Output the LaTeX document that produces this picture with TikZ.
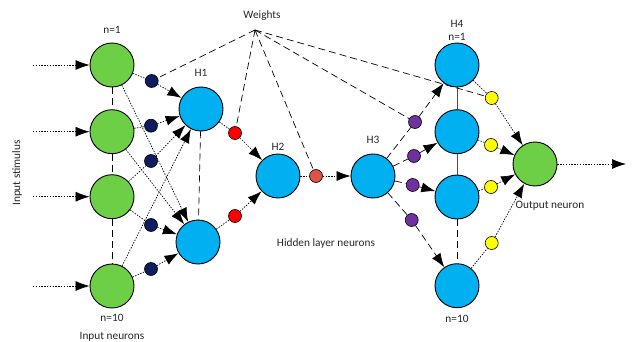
\documentclass[tikz,border=0pt]{standalone}
\usepackage{fontspec}
\setmainfont{Carlito}
\usetikzlibrary{arrows.meta}
\definecolor{cgreen}{HTML}{6DCF46}
\definecolor{cblue}{HTML}{00B0F0}
\definecolor{cnavy}{HTML}{0E1D5F}
\definecolor{cred}{HTML}{FF0000}
\definecolor{csalmon}{HTML}{DD5347}
\definecolor{cpurple}{HTML}{7030A0}
\definecolor{cyellow}{HTML}{FFFF00}
\begin{document}
\begin{tikzpicture}[x=1pt,y=-1pt,
  neuron/.style={circle,draw=black,line width=0.9pt,minimum size=44pt,inner sep=0pt},
  wdot/.style={circle,draw=black,line width=0.6pt,minimum size=13pt,inner sep=0pt},
  lbl/.style={font=\fontsize{11.3}{13}\selectfont,inner sep=0pt,text=black!85},
  dotline/.style={line width=0.7pt,dash pattern=on 1.4pt off 1.4pt},
  dashline/.style={line width=0.7pt,dash pattern=on 7pt off 4pt},
  arr/.style={-{Latex[length=14pt,width=10pt]}},
]
\useasboundingbox (0,0) rectangle (636,342);
% input neurons
\node[neuron,fill=cgreen] (n1) at (112,65) {};
\node[neuron,fill=cgreen] (n2) at (112,131.7) {};
\node[neuron,fill=cgreen] (n3) at (112,196.7) {};
\node[neuron,fill=cgreen] (n4) at (112,286) {};
% hidden
\node[neuron,fill=cblue] (h1) at (201,109) {};
\node[neuron,fill=cblue] (h1b) at (198,242) {};
\node[neuron,fill=cblue] (h2) at (278,176) {};
\node[neuron,fill=cblue] (h3) at (373,176) {};
\node[neuron,fill=cblue] (k1) at (457,65) {};
\node[neuron,fill=cblue] (k2) at (457,131.7) {};
\node[neuron,fill=cblue] (k3) at (457,197) {};
\node[neuron,fill=cblue] (k4) at (457,285.7) {};
\node[neuron,fill=cgreen] (out) at (535,164) {};
% weight dots
\node[wdot,fill=cnavy] (d1) at (151.7,81) {};
\node[wdot,fill=cnavy] (d2) at (151,125.7) {};
\node[wdot,fill=cnavy] (d3) at (151,161) {};
\node[wdot,fill=cnavy] (d4) at (151,225) {};
\node[wdot,fill=cnavy] (d5) at (151,269) {};
\node[wdot,fill=cred] (r1) at (235,133) {};
\node[wdot,fill=cred] (r2) at (235,216) {};
\node[wdot,fill=csalmon] (s1) at (316,176) {};
\node[wdot,fill=cpurple] (p1) at (415,122) {};
\node[wdot,fill=cpurple] (p2) at (414,156) {};
\node[wdot,fill=cpurple] (p3) at (412.7,185) {};
\node[wdot,fill=cpurple] (p4) at (411.7,220) {};
\node[wdot,fill=cyellow] (y1) at (491.7,98) {};
\node[wdot,fill=cyellow] (y2) at (491,145) {};
\node[wdot,fill=cyellow] (y3) at (491,187) {};
\node[wdot,fill=cyellow] (y4) at (491.7,243) {};
% coordinates
\coordinate (w) at (255,30);
\coordinate (i1) at (33,65);
\coordinate (i2) at (33,131.7);
\coordinate (i3) at (33,196.7);
\coordinate (i4) at (33,286);
\coordinate (o) at (626,164);
% labels
\node[lbl] (tw) at (262,16) {Weights};
\node[lbl] (tn1) at (112,30) {n=1};
\node[lbl] (tn10) at (112,318) {n=10};
\node[lbl] (tin) at (112,337) {Input neurons};
\node[lbl,rotate=90] (tis) at (17,173) {Input stimulus};
\node[lbl] (th1) at (201,73) {H1};
\node[lbl] (th2) at (278,147) {H2};
\node[lbl] (th3) at (373,140) {H3};
\node[lbl] (th4) at (457,24) {H4};
\node[lbl] (tk1) at (457,37) {n=1};
\node[lbl] (tk10) at (457,319) {n=10};
\node[lbl] (thl) at (326,243) {Hidden layer neurons};
\node[lbl] (tout) at (550,206) {Output neuron};
% vertical dashed chains
\draw[dashline] (n1) -- (n2);
\draw[dashline] (n2) -- (n3);
\draw[dashline] (n3) -- (n4);
\draw[dashline] (h1) -- (h1b);
\draw[line width=0.7pt,black!70] (k1) -- (k2);
\draw[line width=0.7pt,black!70] (k2) -- (k3);
\draw[dashline] (k3) -- (k4);
% inputs
\draw[dotline,arr] (i1) -- (n1);
\draw[dotline,arr] (i2) -- (n2);
\draw[dotline,arr] (i3) -- (n3);
\draw[dotline,arr] (i4) -- (n4);
% input -> H1
\draw[dotline] (n1) -- (d1);
\draw[dotline,arr] (d1) -- (h1);
\draw[dotline,arr] (n1) -- (h1b);
\draw[dotline] (n2) -- (d2);
\draw[dotline,arr] (d2) -- (h1);
\draw[dotline,arr] (n2) -- (h1b);
\draw[dotline] (n3) -- (d3);
\draw[dotline,arr] (d3) -- (h1);
\draw[dotline] (n3) -- (d4);
\draw[dotline,arr] (d4) -- (h1b);
\draw[dotline,arr] (n4) -- (h1);
\draw[dotline] (n4) -- (d5);
\draw[dotline,arr] (d5) -- (h1b);
% H1 -> H2 -> H3
\draw[dotline] (h1) -- (r1);
\draw[dotline,arr] (r1) -- (h2);
\draw[dotline] (h1b) -- (r2);
\draw[dotline,arr] (r2) -- (h2);
\draw[dotline] (h2) -- (s1);
\draw[dotline,arr] (s1) -- (h3);
% H3 -> H4
\draw[dashline] (h3) -- (p1);
\draw[dashline,arr] (p1) -- (k1);
\draw[dashline] (h3) -- (p2);
\draw[dashline,arr] (p2) -- (k2);
\draw[dashline] (h3) -- (p3);
\draw[dashline,arr] (p3) -- (k3);
\draw[dashline] (h3) -- (p4);
\draw[dashline,arr] (p4) -- (k4);
% H4 -> output
\draw[dotline] (k1) -- (y1);
\draw[dotline,arr] (y1) -- (out);
\draw[dotline] (k2) -- (y2);
\draw[dotline,arr] (y2) -- (out);
\draw[dotline] (k3) -- (y3);
\draw[dotline,arr] (y3) -- (out);
\draw[dotline] (k4) -- (y4);
\draw[dotline,arr] (y4) -- (out);
\draw[dotline,arr] (out) -- (o);
% weights
\draw[dashline] (w) -- (d1);
\draw[dashline] (w) -- (r1);
\draw[dashline] (w) -- (s1);
\draw[dashline] (w) -- (p1);
\draw[dashline] (w) -- (y1);
\end{tikzpicture}
\end{document}
